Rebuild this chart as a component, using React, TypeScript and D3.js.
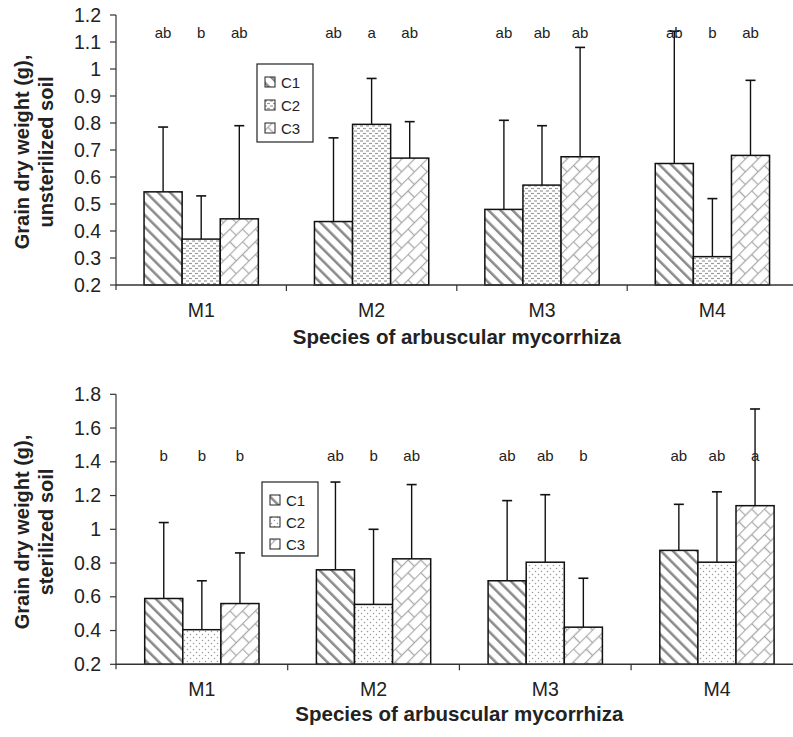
import React from "react";
import * as d3 from "d3";

const groups = ["M1", "M2", "M3", "M4"];
const seriesNames = ["C1", "C2", "C3"];

// Unsterilized soil
const unsterC1 = [0.545, 0.435, 0.48, 0.65];
const unsterC2 = [0.37, 0.795, 0.57, 0.305];
const unsterC3 = [0.445, 0.67, 0.675, 0.68];
const unsterErrTopC1 = [0.785, 0.745, 0.81, 1.14];
const unsterErrTopC2 = [0.53, 0.965, 0.79, 0.52];
const unsterErrTopC3 = [0.79, 0.805, 1.08, 0.958];
const unsterLetters = [
  ["ab", "b", "ab"],
  ["ab", "a", "ab"],
  ["ab", "ab", "ab"],
  ["ab", "b", "ab"],
];
const unsterTicks = ["0.2", "0.3", "0.4", "0.5", "0.6", "0.7", "0.8", "0.9", "1", "1.1", "1.2"];

// Sterilized soil
const sterC1 = [0.59, 0.76, 0.695, 0.875];
const sterC2 = [0.405, 0.555, 0.805, 0.805];
const sterC3 = [0.56, 0.825, 0.42, 1.14];
const sterErrTopC1 = [1.04, 1.28, 1.17, 1.148];
const sterErrTopC2 = [0.695, 1.0, 1.205, 1.222];
const sterErrTopC3 = [0.86, 1.265, 0.71, 1.713];
const sterLetters = [
  ["b", "b", "b"],
  ["ab", "b", "ab"],
  ["ab", "ab", "b"],
  ["ab", "ab", "a"],
];
const sterTicks = ["0.2", "0.4", "0.6", "0.8", "1", "1.2", "1.4", "1.6", "1.8"];

const FONT = "'Liberation Sans', Arial, sans-serif";

type ChartProps = {
  means: number[][];
  errTops: number[][];
  letters: string[][];
  ticks: string[];
  yMin: number;
  yMax: number;
  top: number;
  bottom: number;
  bandW: number;
  letterY: number;
  titleLine2: string;
  titleCY: number;
  xTitleY: number;
  legend: { x: number; y: number; w: number; h: number; dy: number };
  fills: string[];
};

function Chart(p: ChartProps) {
  const x0 = 116;
  const xBand = d3
    .scaleBand<string>()
    .domain(groups)
    .range([x0, x0 + p.bandW * groups.length])
    .paddingInner(0)
    .paddingOuter(0);
  const barW = 38.1;
  const xInner = d3
    .scaleBand<string>()
    .domain(seriesNames)
    .range([0, barW * 3]);
  const y = d3.scaleLinear().domain([p.yMin, p.yMax]).range([p.bottom, p.top]);
  const axisEnd = Math.min(x0 + p.bandW * groups.length, 793);
  const groupOffset = (p.bandW - barW * 3) / 2;

  return (
    <g>
      {groups.map((g, gi) =>
        seriesNames.map((s, si) => {
          const bx = (xBand(g) as number) + groupOffset + (xInner(s) as number);
          const v = p.means[si][gi];
          const e = p.errTops[si][gi];
          const cx = bx + barW / 2;
          return (
            <g key={g + s}>
              <line x1={cx} x2={cx} y1={y(v)} y2={y(e)} stroke="#111" strokeWidth={1.4} />
              <line x1={cx - 5} x2={cx + 5} y1={y(e)} y2={y(e)} stroke="#111" strokeWidth={1.6} />
              <rect
                x={bx}
                y={y(v)}
                width={barW}
                height={p.bottom - y(v)}
                fill={p.fills[si]}
                stroke="#111"
                strokeWidth={1.5}
              />
              <text
                x={cx}
                y={p.letterY}
                textAnchor="middle"
                fontFamily={FONT}
                fontSize={15}
                fill="#222"
              >
                {p.letters[gi][si]}
              </text>
            </g>
          );
        })
      )}
      <line x1={x0} x2={x0} y1={p.top} y2={p.bottom + 5} stroke="#333" strokeWidth={1.2} />
      {p.ticks.map((t) => (
        <g key={t}>
          <line x1={x0 - 6} x2={x0} y1={y(+t)} y2={y(+t)} stroke="#333" strokeWidth={1.2} />
          <text
            x={x0 - 15}
            y={y(+t) + 6.5}
            textAnchor="end"
            fontFamily={FONT}
            fontSize={19.5}
            fill="#222"
          >
            {t}
          </text>
        </g>
      ))}
      <line x1={x0} x2={axisEnd} y1={p.bottom} y2={p.bottom} stroke="#333" strokeWidth={1.4} />
      {groups.slice(1).map((g) => (
        <line
          key={g}
          x1={xBand(g) as number}
          x2={xBand(g) as number}
          y1={p.bottom}
          y2={p.bottom + 6}
          stroke="#333"
          strokeWidth={1.2}
        />
      ))}
      {groups.map((g) => (
        <text
          key={g}
          x={(xBand(g) as number) + p.bandW / 2}
          y={p.bottom + 32}
          textAnchor="middle"
          fontFamily={FONT}
          fontSize={19.5}
          fill="#222"
        >
          {g}
        </text>
      ))}
      <text
        x={x0 + p.bandW * 2}
        y={p.xTitleY}
        textAnchor="middle"
        fontFamily={FONT}
        fontSize={20.5}
        fontWeight="bold"
        fill="#222"
      >
        Species of arbuscular mycorrhiza
      </text>
      <g transform={`translate(0, ${p.titleCY}) rotate(-90)`}>
        <text
          x={0}
          y={29}
          textAnchor="middle"
          fontFamily={FONT}
          fontSize={20}
          fontWeight="bold"
          fill="#222"
        >
          Grain dry weight (g),
        </text>
        <text
          x={0}
          y={53}
          textAnchor="middle"
          fontFamily={FONT}
          fontSize={20}
          fontWeight="bold"
          fill="#222"
        >
          {p.titleLine2}
        </text>
      </g>
      <rect
        x={p.legend.x}
        y={p.legend.y}
        width={p.legend.w}
        height={p.legend.h}
        fill="#fff"
        stroke="#222"
        strokeWidth={1.2}
      />
      {seriesNames.map((s, si) => {
        const cy = p.legend.y + 18 + si * p.legend.dy;
        return (
          <g key={s}>
            <rect
              x={p.legend.x + 8}
              y={cy - 5}
              width={10}
              height={10}
              fill={p.fills[si]}
              stroke="#222"
              strokeWidth={1}
            />
            <text
              x={p.legend.x + 24}
              y={cy + 5.5}
              fontFamily={FONT}
              fontSize={15}
              fill="#222"
            >
              {s}
            </text>
          </g>
        );
      })}
    </g>
  );
}

export default function App() {
  return (
    <svg
      width={793}
      height={737}
      style={{ position: "absolute", left: 0, top: 0, background: "#fff" }}
    >
      <defs>
        <pattern
          id="diag"
          patternUnits="userSpaceOnUse"
          width={8.5}
          height={8.5}
          patternTransform="rotate(-45)"
        >
          <rect width={8.5} height={8.5} fill="#fff" />
          <line x1={0} y1={0} x2={0} y2={8.5} stroke="#8a8a8a" strokeWidth={5} />
        </pattern>
        <pattern id="dashes" patternUnits="userSpaceOnUse" width={6} height={5}>
          <rect width={6} height={5} fill="#fff" />
          <line x1={0} y1={1} x2={3} y2={1} stroke="#9a9a9a" strokeWidth={1.2} />
          <line x1={3} y1={3.5} x2={6} y2={3.5} stroke="#9a9a9a" strokeWidth={1.2} />
        </pattern>
        <pattern id="dots" patternUnits="userSpaceOnUse" width={6} height={6}>
          <rect width={6} height={6} fill="#fff" />
          <circle cx={1.5} cy={1.5} r={0.75} fill="#999" />
          <circle cx={4.5} cy={4.5} r={0.75} fill="#999" />
        </pattern>
        <pattern
          id="brick"
          patternUnits="userSpaceOnUse"
          width={18}
          height={18}
          patternTransform="rotate(-45)"
        >
          <rect width={18} height={18} fill="#fff" />
          <line x1={0} y1={0.5} x2={18} y2={0.5} stroke="#aaa" strokeWidth={1.3} />
          <line x1={0} y1={9.5} x2={18} y2={9.5} stroke="#aaa" strokeWidth={1.3} />
          <line x1={0.5} y1={0} x2={0.5} y2={9} stroke="#aaa" strokeWidth={1.3} />
          <line x1={9.5} y1={9} x2={9.5} y2={18} stroke="#aaa" strokeWidth={1.3} />
        </pattern>
      </defs>
      <Chart
        means={[unsterC1, unsterC2, unsterC3]}
        errTops={[unsterErrTopC1, unsterErrTopC2, unsterErrTopC3]}
        letters={unsterLetters}
        ticks={unsterTicks}
        yMin={0.2}
        yMax={1.2}
        top={15}
        bottom={285}
        bandW={170.4}
        letterY={38}
        titleLine2="unsterilized soil"
        titleCY={152}
        xTitleY={344}
        legend={{ x: 257, y: 64, w: 56, h: 78, dy: 23 }}
        fills={["url(#diag)", "url(#dashes)", "url(#brick)"]}
      />
      <Chart
        means={[sterC1, sterC2, sterC3]}
        errTops={[sterErrTopC1, sterErrTopC2, sterErrTopC3]}
        letters={sterLetters}
        ticks={sterTicks}
        yMin={0.2}
        yMax={1.8}
        top={394.3}
        bottom={664.3}
        bandW={171.7}
        letterY={461}
        titleLine2="sterilized soil"
        titleCY={532}
        xTitleY={721}
        legend={{ x: 262, y: 482, w: 56, h: 74, dy: 22 }}
        fills={["url(#diag)", "url(#dots)", "url(#brick)"]}
      />
    </svg>
  );
}
